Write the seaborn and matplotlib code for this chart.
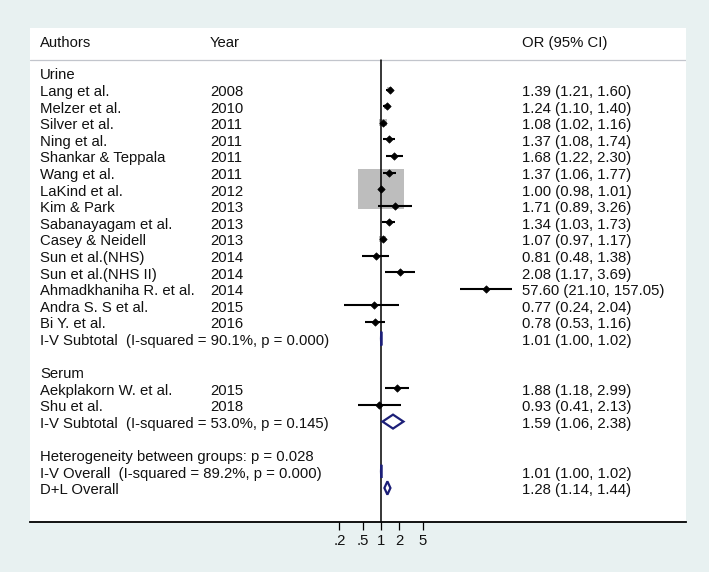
import numpy as np
import pandas as pd
import matplotlib
matplotlib.use("Agg")
import matplotlib.pyplot as plt
import matplotlib.transforms as mtransforms
from matplotlib.patches import Rectangle, Polygon
from matplotlib.ticker import NullLocator
import seaborn as sns

# ------------------------------
# Data
# ------------------------------
urine_authors = ["Lang et al.", "Melzer et al.", "Silver et al.", "Ning et al.",
                 "Shankar & Teppala", "Wang et al.", "LaKind et al.", "Kim & Park",
                 "Sabanayagam et al.", "Casey & Neidell", "Sun et al.(NHS)",
                 "Sun et al.(NHS II)", "Ahmadkhaniha R. et al.", "Andra S. S et al.",
                 "Bi Y. et al."]
urine_years = [2008, 2010, 2011, 2011, 2011, 2011, 2012, 2013, 2013, 2013,
               2014, 2014, 2014, 2015, 2016]
urine_or = [1.39, 1.24, 1.08, 1.37, 1.68, 1.37, 1.00, 1.71, 1.34, 1.07,
            0.81, 2.08, 57.60, 0.77, 0.78]
urine_lo = [1.21, 1.10, 1.02, 1.08, 1.22, 1.06, 0.98, 0.89, 1.03, 0.97,
            0.48, 1.17, 21.10, 0.24, 0.53]
urine_hi = [1.60, 1.40, 1.16, 1.74, 2.30, 1.77, 1.01, 3.26, 1.73, 1.17,
            1.38, 3.69, 157.05, 2.04, 1.16]
urine_weight = [1.0, 1.4, 3.0, 0.35, 0.2, 0.3, 88.7, 0.05, 0.3, 2.3,
                0.07, 0.06, 0.02, 0.02, 0.13]

serum_authors = ["Aekplakorn W. et al.", "Shu et al."]
serum_years = [2015, 2018]
serum_or = [1.88, 0.93]
serum_lo = [1.18, 0.41]
serum_hi = [2.99, 2.13]
serum_weight = [0.09, 0.03]

subtotal_labels = ["I-V Subtotal  (I-squared = 90.1%, p = 0.000)",
                   "I-V Subtotal  (I-squared = 53.0%, p = 0.145)"]
subtotal_or = [1.01, 1.59]
subtotal_lo = [1.00, 1.06]
subtotal_hi = [1.02, 2.38]

overall_labels = ["I-V Overall  (I-squared = 89.2%, p = 0.000)", "D+L Overall"]
overall_or = [1.01, 1.28]
overall_lo = [1.00, 1.14]
overall_hi = [1.02, 1.44]
heterogeneity_text = "Heterogeneity between groups: p = 0.028"

tick_values = [0.2, 0.5, 1, 2, 5]
tick_labels = [".2", ".5", "1", "2", "5"]

# ------------------------------
# Build row table
# ------------------------------
studies = pd.DataFrame({
    "author": urine_authors + serum_authors,
    "year": urine_years + serum_years,
    "OR": urine_or + serum_or,
    "lo": urine_lo + serum_lo,
    "hi": urine_hi + serum_hi,
    "weight": urine_weight + serum_weight,
})
n_u = len(urine_authors)
studies["row"] = list(range(1, n_u + 1)) + [n_u + 4, n_u + 5]
sub_rows = [n_u + 1, n_u + 6]
group_rows = [0, n_u + 3]
het_row = n_u + 8
overall_rows = [n_u + 9, n_u + 10]

# ------------------------------
# Figure
# ------------------------------
sns.set_style("white")
plt.rcParams["font.family"] = ["Liberation Sans", "DejaVu Sans"]
fs = 10.7
bg = "#e8f1f1"
navy = "#1c1f78"

fig = plt.figure(figsize=(7.09, 5.72), dpi=100, facecolor=bg)
W, H = 709, 572
top_px, bot_px, left_px, right_px = 28, 521.7, 30, 686
ax = fig.add_axes([left_px / W, 1 - bot_px / H, (right_px - left_px) / W,
                   (bot_px - top_px) / H])
ax.set_facecolor("white")
ax.set_xscale("log")
px_per_ln = 25.9
x1_px = 381
ax.set_xlim(np.exp((left_px - x1_px) / px_per_ln), np.exp((right_px - x1_px) / px_per_ln))
px_per_row = 16.6
row0_px = 73
ax.set_ylim((bot_px - row0_px) / px_per_row, (top_px - row0_px) / px_per_row)

# weight boxes
max_side = 46.0
for _, r in studies.iterrows():
    side = max_side * np.sqrt(r["weight"] / max(studies["weight"]))
    hw = side / 2 / px_per_ln
    hh = side * 0.87 / 2 / px_per_row
    ax.add_patch(Rectangle((r["OR"] * np.exp(-hw), r["row"] - hh),
                           r["OR"] * (np.exp(hw) - np.exp(-hw)), 2 * hh,
                           facecolor="#bdbdbd", edgecolor="none", zorder=2))

# confidence intervals and point estimates
ax.hlines(studies["row"], studies["lo"], studies["hi"], color="black", lw=1.5, zorder=3)
sns.scatterplot(data=studies, x="OR", y="row", marker="D", s=14, color="black",
                edgecolor="black", linewidth=0.5, ax=ax, zorder=4)

# reference line at 1
ax.plot([1, 1], [-0.8, ax.get_ylim()[0]], color="black", lw=1.1, zorder=5, clip_on=False)
ax.axhline(-0.8, color="#c2c5cc", lw=0.9)

# diamonds
def diamond(est, lo, hi, y, h=0.42):
    ax.add_patch(Polygon([(lo, y), (est, y - h), (hi, y), (est, y + h)], closed=True,
                         facecolor="none", edgecolor=navy, lw=1.6, zorder=6))

for est, lo, hi, y in zip(subtotal_or, subtotal_lo, subtotal_hi, sub_rows):
    diamond(est, lo, hi, y)
for est, lo, hi, y in zip(overall_or, overall_lo, overall_hi, overall_rows):
    diamond(est, lo, hi, y, h=0.4)

# text columns
tr = mtransforms.blended_transform_factory(ax.transAxes, ax.transData)
xa, xy, xo = 0.0152, 0.2744, 0.75
dy = 0.15  # nudge text down a little


def put(x, y, s):
    ax.text(x, y + dy, s, transform=tr, va="center", fontsize=fs, color="#111111")


hdr = -1.95
put(xa, hdr, "Authors")
put(xy, hdr, "Year")
put(xo, hdr, "OR (95% CI)")

put(xa, group_rows[0], "Urine")
put(xa, group_rows[1], "Serum")
for _, r in studies.iterrows():
    put(xa, r["row"], r["author"])
    put(xy, r["row"], str(r["year"]))
    put(xo, r["row"], f"{r['OR']:.2f} ({r['lo']:.2f}, {r['hi']:.2f})")
for lab, est, lo, hi, y in zip(subtotal_labels + overall_labels,
                               subtotal_or + overall_or,
                               subtotal_lo + overall_lo,
                               subtotal_hi + overall_hi,
                               sub_rows + overall_rows):
    put(xa, y, lab)
    put(xo, y, f"{est:.2f} ({lo:.2f}, {hi:.2f})")
put(xa, het_row, heterogeneity_text)

# axes styling
for s in ["top", "left", "right"]:
    ax.spines[s].set_visible(False)
ax.spines["bottom"].set_color("black")
ax.spines["bottom"].set_linewidth(1.3)
ax.set_yticks([])
ax.set_xticks(tick_values)
ax.set_xticklabels(tick_labels, fontsize=fs, color="#111111")
ax.xaxis.set_minor_locator(NullLocator())
ax.tick_params(axis="x", direction="out", length=5.5, width=0.9, pad=3, color="black",
               bottom=True)
ax.set_xlabel("")
ax.set_ylabel("")

fig.savefig("out.png", dpi=100, facecolor=bg)
